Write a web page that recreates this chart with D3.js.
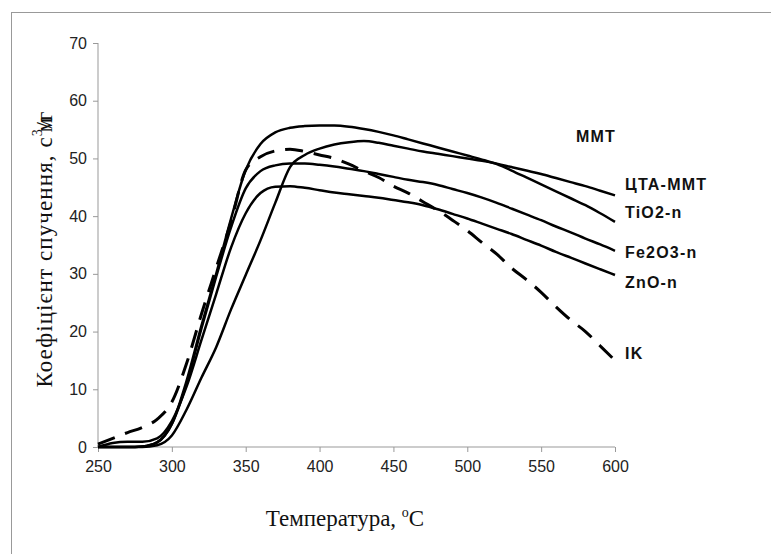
<!DOCTYPE html>
<meta charset="utf-8">
<html>
<head>
  <style>
    body { margin: 0; background: #fff; }
    svg { display: block; }
    .tick text { font-family: "Liberation Sans", Arial, sans-serif; font-size: 16px; fill: #222; }
    .axis path, .axis line { stroke: #999; }
    .lbl { font-family: "Liberation Sans", Arial, sans-serif; font-size: 16px; font-weight: bold; fill: #111; letter-spacing: 1.2px; }
    .title { font-family: "Liberation Serif", "Times New Roman", serif; font-size: 23px; fill: #111; }
  </style>
</head>
<body>
<svg id="chart" width="771" height="554"></svg>
<script src="https://d3js.org/d3.v7.min.js"></script>
<script>
// temperature grid, °C
const temps = [250,260,270,280,290,300,310,320,330,340,350,360,370,380,390,400,410,420,
               430,440,450,460,470,480,490,500,510,520,530,540,550,560,570,580,590,600];

const ctaMmt = [0,0,0,0,0.3,2,6.5,12,17.3,23.8,29.8,35.8,42.3,48.5,50.6,51.7,52.4,52.8,
                53,52.7,52.2,51.7,51.2,50.8,50.4,50,49.6,49.1,48.5,47.9,47.3,46.6,45.9,45.2,44.4,43.6];
const tio2 = [0,0,0,0.1,0.8,4,11.5,21,30,39.5,48,52.5,54.5,55.3,55.6,55.7,55.7,55.5,
              55.1,54.6,54,53.3,52.6,51.9,51.2,50.5,49.8,49,47.9,46.7,45.5,44.3,43.1,41.9,40.5,39];
const fe2o3 = [0,0,0,0.1,0.8,4,11,20.5,29.5,38,44.8,47.8,48.8,49.1,49.1,48.9,48.6,48.2,
               47.8,47.3,46.8,46.3,45.9,45.4,44.7,44,43.2,42.3,41.3,40.3,39.3,38.2,37.2,36.1,35.1,34];
const zno = [0,0.7,0.9,0.9,1.5,4.5,10.5,18.5,26.5,34.5,40.5,44,45.1,45.2,44.9,44.5,44.1,43.8,
             43.5,43.2,42.8,42.4,41.9,41.2,40.4,39.6,38.7,37.8,36.9,35.9,34.9,33.8,32.8,31.8,30.8,29.8];
const ik = [0.5,1.5,2.5,3.4,4.8,7.8,14.5,23,31,39,48,50.3,51.3,51.6,51.2,50.6,50,49,
            47.8,46.7,45.2,44,42.5,41,39.3,37.5,35.4,33.4,31,29,26.8,24.3,22,20,17.5,15];

const xTicks = [250,300,350,400,450,500,550,600];
const yTicks = [0,10,20,30,40,50,60,70];

// end labels and the value each one sits at
const labels = ["MMT","ЦТА-MMT","TiO2-n","Fe2O3-n","ZnO-n","IK"];
const labelVals = [52.9,44.6,39.6,32.8,27.6,15.3];

const svg = d3.select("#chart");

// outer frame
svg.append("rect")
  .attr("x", 11.5).attr("y", 12.5)
  .attr("width", 900).attr("height", 700)
  .attr("fill", "none").attr("stroke", "#999");

const x = d3.scaleLinear().domain([250, 600]).range([98, 615]);
const y = d3.scaleLinear().domain([0, 70]).range([447, 43]);

svg.append("g")
  .attr("class", "axis")
  .attr("transform", "translate(0,447)")
  .call(d3.axisBottom(x).tickValues(xTicks).tickSize(5).tickPadding(9))
  .call(g => g.select(".domain").attr("d", "M98,0H615"));

svg.append("g")
  .attr("class", "axis")
  .attr("transform", "translate(98,0)")
  .call(d3.axisLeft(y).tickValues(yTicks).tickSize(5).tickPadding(6))
  .call(g => g.select(".domain").attr("d", "M0,447V43"));

const line = d3.line()
  .x((d, i) => x(temps[i]))
  .y(d => y(d))
  .curve(d3.curveMonotoneX);

const solid = [ctaMmt, tio2, fe2o3, zno];
svg.append("g")
  .selectAll("path")
  .data(solid)
  .join("path")
  .attr("d", line)
  .attr("fill", "none")
  .attr("stroke", "#000")
  .attr("stroke-width", 2.5);

svg.append("path")
  .datum(ik)
  .attr("d", line)
  .attr("fill", "none")
  .attr("stroke", "#000")
  .attr("stroke-width", 3)
  .attr("stroke-dasharray", "18,11");

// series names
svg.append("g")
  .selectAll("text")
  .data(labels)
  .join("text")
  .attr("class", "lbl")
  .attr("x", (d, i) => i === 0 ? 576 : 625)
  .attr("y", (d, i) => y(labelVals[i]))
  .text(d => d);

// axis titles
svg.append("text")
  .attr("class", "title")
  .attr("x", 345).attr("y", 526)
  .attr("text-anchor", "middle")
  .html('Температура, <tspan dy="-9" font-size="14">o</tspan><tspan dy="9">C</tspan>');

svg.append("text")
  .attr("class", "title")
  .attr("transform", "translate(52,249) rotate(-90)")
  .attr("text-anchor", "middle")
  .attr("letter-spacing", "1.1")
  .html('Коефіцієнт спучення, с<tspan dy="-10" font-size="14">3</tspan><tspan dy="10" dx="-4">м</tspan><tspan dx="-12">/</tspan><tspan>г</tspan>');
</script>
</body>
</html>
